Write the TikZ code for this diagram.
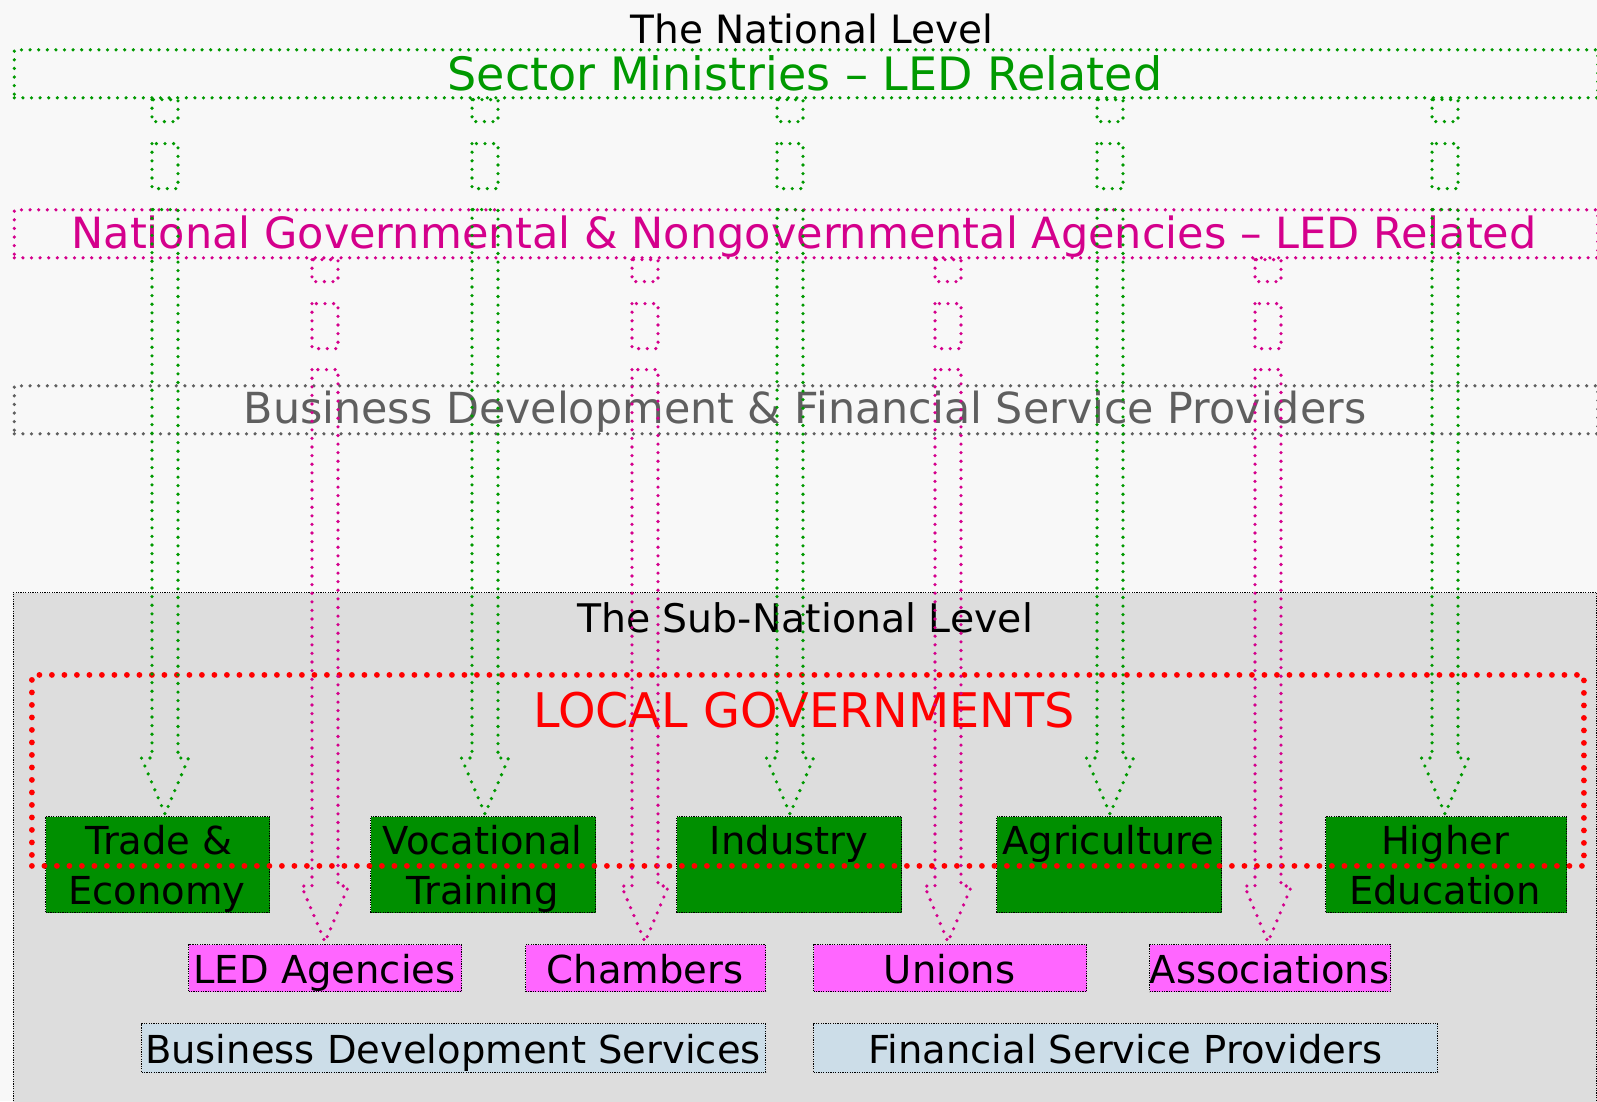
\documentclass[tikz,border=0pt]{standalone}
\usepackage{fontspec}
\setmainfont{DejaVu Sans}
\usetikzlibrary{calc}
\definecolor{bg}{HTML}{F8F8F8}
\definecolor{ggreen}{HTML}{009900}
\definecolor{gfill}{HTML}{008F00}
\definecolor{mag}{HTML}{D4008C}
\definecolor{pinkfill}{HTML}{FF66FF}
\definecolor{bluefill}{HTML}{CCDDE8}
\definecolor{subfill}{HTML}{DDDDDD}
\definecolor{grtxt}{HTML}{5F5F5F}
\newcommand\fsz[1]{\fontsize{#1}{#1}\selectfont}
\newcommand\boxnode[6]{%
  \node[#1, minimum width={(#5-#3)*1pt}, minimum height={(#6-#4)*1pt}] (#2) at (#3,#4) {};}
\newcommand\sarrow[4]{%
  \path (#2,0 |- #3.south) coordinate (sa-t) (#2,0 |- #4.north) coordinate (sa-h);
  \draw[bigdots,#1] ($(sa-t)+(-13,0)$) rectangle ($(sa-t)+(13,22)$);
  \draw[bigdots,#1] ($(sa-t)+(-13,44)$) rectangle ($(sa-t)+(13,89)$);
  \draw[bigdots,#1] ($(sa-t)+(-13,110)$) -- ($(sa-h)+(-13,-58)$) -- ($(sa-h)+(-23.5,-58)$)
     -- ($(sa-h)+(0,-2)$) -- ($(sa-h)+(23.5,-58)$) -- ($(sa-h)+(13,-58)$) -- ($(sa-t)+(13,110)$) -- cycle;}
\tikzset{
  bigdots/.style={line width=3.6pt, line cap=round, dash pattern=on 0pt off 8.6pt},
  reddots/.style={draw=red, line width=5.8pt, line cap=round, dash pattern=on 0pt off 12.5pt},
  finedots/.style={draw=black, line width=1.2pt, dash pattern=on 1.2pt off 1.2pt},
  band/.style={rectangle, bigdots, inner sep=0pt, anchor=north west},
  cellbox/.style={rectangle, finedots, inner sep=0pt, anchor=north west},
  lbl/.style={anchor=base, inner sep=0pt},
  boxtxt/.style={lbl, font=\fsz{38.5}},
}
\begin{document}
\begin{tikzpicture}[x=1pt, y=-1pt]
\useasboundingbox (0,0) rectangle (1597,1101);
\fill[bg] (0,0) rectangle (1597,1101);

% national level bands
\boxnode{band, draw=ggreen}{sector}{12.5}{48}{1596}{96}
\boxnode{band, draw=mag}{nat}{12.5}{208}{1596}{256}
\boxnode{band, draw=grtxt}{bdfsp}{12.5}{384}{1596}{432}
\node[lbl, font=\fsz{39}] (natlevel) at (812,43) {The National Level};
\node[lbl, font=\fsz{46}, text=ggreen] (sectortxt) at (805,90) {Sector Ministries – LED Related};
\node[lbl, font=\fsz{43}, text=mag] (nattxt) at (804,248) {National Governmental \& Nongovernmental Agencies – LED Related};
\node[lbl, font=\fsz{42.8}, text=grtxt] (bdfsptxt) at (805,423) {Business Development \& Financial Service Providers};

% sub-national level
\boxnode{cellbox, fill=subfill}{sub}{12.5}{592}{1596}{1115}
\node[lbl, font=\fsz{39.4}] (sublevel) at (805,632) {The Sub-National Level};
\node[lbl, font=\fsz{47.7}, text=red] (localtxt) at (804,727) {LOCAL GOVERNMENTS};

% sector boxes
\boxnode{cellbox, fill=gfill}{trade}{45}{816}{269}{912}
\boxnode{cellbox, fill=gfill}{voc}{370}{816}{595}{912}
\boxnode{cellbox, fill=gfill}{ind}{676}{816}{901}{912}
\boxnode{cellbox, fill=gfill}{agr}{996}{816}{1221}{912}
\boxnode{cellbox, fill=gfill}{high}{1325}{816}{1566}{912}
\node[boxtxt] (tradeA) at (159,854) {Trade \&};
\node[boxtxt] (tradeB) at (157,904) {Economy};
\node[boxtxt] (vocA) at (482.5,854) {Vocational};
\node[boxtxt] (vocB) at (482.5,904) {Training};
\node[boxtxt] (indA) at (789,854) {Industry};
\node[boxtxt] (agrA) at (1108.5,854) {Agriculture};
\node[boxtxt] (highA) at (1445,854) {Higher};
\node[boxtxt] (highB) at (1445,904) {Education};

% local governments frame
\boxnode{band, reddots}{local}{29}{672}{1581}{863}

% agencies
\boxnode{cellbox, fill=pinkfill}{led}{188}{944}{461}{991}
\boxnode{cellbox, fill=pinkfill}{cham}{525}{944}{765}{991}
\boxnode{cellbox, fill=pinkfill}{uni}{813}{944}{1086}{991}
\boxnode{cellbox, fill=pinkfill}{assoc}{1149}{944}{1390}{991}
\node[boxtxt] (ledA) at (324.5,983) {LED Agencies};
\node[boxtxt] (chamA) at (645,983) {Chambers};
\node[boxtxt] (uniA) at (949.5,983) {Unions};
\node[boxtxt] (assocA) at (1269.5,983) {Associations};

% service providers
\boxnode{cellbox, fill=bluefill}{bds}{141}{1023}{765}{1072}
\boxnode{cellbox, fill=bluefill}{fsp}{813}{1023}{1437}{1072}
\node[boxtxt] (bdsA) at (453,1063) {Business Development Services};
\node[boxtxt] (fspA) at (1125,1063) {Financial Service Providers};

% striped arrows
\sarrow{ggreen}{165}{sector}{trade}
\sarrow{ggreen}{485}{sector}{voc}
\sarrow{ggreen}{790}{sector}{ind}
\sarrow{ggreen}{1110}{sector}{agr}
\sarrow{ggreen}{1445}{sector}{high}
\sarrow{mag}{325}{nat}{led}
\sarrow{mag}{645}{nat}{cham}
\sarrow{mag}{948}{nat}{uni}
\sarrow{mag}{1268}{nat}{assoc}
\end{tikzpicture}
\end{document}
